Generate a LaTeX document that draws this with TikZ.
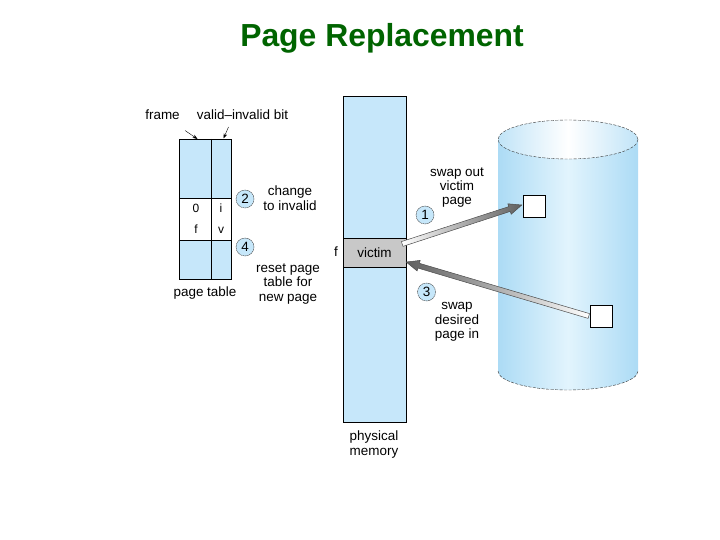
\documentclass[tikz,border=0pt]{standalone}
\usepackage{fontspec}
\setmainfont{Liberation Sans}
\usetikzlibrary{calc,arrows.meta}
\definecolor{titlegreen}{RGB}{0,100,0}
\definecolor{memblue}{RGB}{198,231,250}
\definecolor{diskblue}{RGB}{172,219,245}
\definecolor{disklight}{RGB}{226,244,253}
\definecolor{victimgray}{RGB}{200,200,200}
\definecolor{arrowgray}{RGB}{95,95,95}
\begin{document}
\begin{tikzpicture}[x=1bp, y=-1bp, font=\fontsize{13.5}{14.5}\selectfont]
    % Node style
    \tikzstyle{step circle}=[circle,draw=black!75,dash pattern=on 1.6pt off 0.6pt,fill=memblue,inner sep=0pt,minimum size=18bp]
    \tikzstyle{note}=[align=center,inner sep=0pt]
    \tikzstyle{cell text}=[anchor=base,inner sep=0pt,font=\fontsize{12}{13}\selectfont]
    \tikzstyle{small arrow}=[-{Stealth[length=5pt,width=3.5pt]},thin]
    \tikzstyle{page box}=[draw,thin,fill=white,minimum size=22bp,inner sep=0pt]
    \tikzstyle{disk dash}=[draw=black!80,thin,dash pattern=on 3pt off 1.5pt]

    \useasboundingbox (0,0) rectangle (720,540);

    % --- Title ---
    \node[anchor=base, text=titlegreen, font=\fontsize{32}{36}\selectfont\bfseries] (title) at (382,47) {Page Replacement};

    % --- Page table ---
    \filldraw[fill=memblue, thin] (179,139) rectangle (231,279);
    \filldraw[fill=white, thin] (179,198.5) rectangle (231,240);
    \draw[thin] (211.5,139) -- (211.5,279);
    \node[cell text] (pt_0) at (196,212.5) {0};
    \node[cell text] (pt_i) at (221,212.5) {i};
    \node[cell text] (pt_f) at (196,233.5) {f};
    \node[cell text] (pt_v) at (221,233.5) {v};

    % Column labels and their pointers
    \node[anchor=base] (frame_lbl) at (162.5,120) {frame};
    \node[anchor=base] (vi_lbl) at (242.5,120) {valid--invalid bit};
    \coordinate (frame_tail) at (185,130.5);
    \coordinate (frame_tip) at (197.5,139);
    \coordinate (vi_tail) at (228.5,127);
    \coordinate (vi_tip) at (223.5,138.5);
    \draw[small arrow] (frame_tail) -- (frame_tip);
    \draw[small arrow] (vi_tail) -- (vi_tip);

    \node[note] (pt_lbl) at (205,293) {page table};

    % Steps 2 and 4
    \node[step circle] (step2) at (245,199) {2};
    \node[note] (change_note) at (290,198) {change\\to invalid};
    \node[step circle] (step4) at (245,247) {4};
    \node[note] (reset_note) at (288,284) {reset page\\table for\\new page};

    % --- Physical memory ---
    \filldraw[fill=memblue, thin] (343,96) rectangle (406,422);
    \node[draw, thin, fill=victimgray, minimum width=63bp, minimum height=29bp, inner sep=0pt] (victim) at (374.5,252.5) {victim};
    \node (f_lbl) at (336,252) {f};
    \node[note] (mem_lbl) at (374,444.5) {physical\\memory};

    % --- Backing store (disk) ---
    \shade[left color=diskblue, right color=diskblue, middle color=disklight]
        (498,139.5) -- (498,371) arc[start angle=180, end angle=0, x radius=70, y radius=19] -- (638,139.5) -- cycle;
    \shade[left color=diskblue!75!white, right color=diskblue!75!white, middle color=white]
        (568,139.5) ellipse[x radius=70, y radius=19.5];
    \draw[disk dash] (568,139.5) ellipse[x radius=70, y radius=19.5];
    \draw[disk dash] (498,371) arc[start angle=180, end angle=0, x radius=70, y radius=19];

    \node[page box] (disk_out) at (534,206) {};
    \node[page box] (disk_in) at (601,316) {};

    % Steps 1 and 3
    \node[step circle] (step1) at (425,215) {1};
    \node[note] (out_note) at (457,187.5) {swap out\\victim\\page};
    \node[step circle] (step3) at (426.5,292) {3};
    \node[note] (in_note) at (457,322) {swap\\desired\\page in};

    % --- Swap arrows ---
    \coordinate (out_a) at ($(victim.east)+(-4,-8.5)$);
    \coordinate (out_b) at ($(disk_out.west)+(-1,-1)$);
    \coordinate (out_m) at ($(out_b)!13pt!(out_a)$);
    \shadedraw[left color=white, right color=arrowgray, draw=arrowgray!80!black, line width=0.5pt]
        ($(out_a)!2.5pt!90:(out_b)$) -- ($(out_m)!2.5pt!-90:(out_a)$) -- ($(out_m)!5.5pt!-90:(out_a)$)
        -- (out_b) -- ($(out_m)!5.5pt!90:(out_a)$) -- ($(out_m)!2.5pt!90:(out_a)$) -- ($(out_a)!2.5pt!-90:(out_b)$) -- cycle;

    \coordinate (in_a) at ($(disk_in.west)+(-1,0)$);
    \coordinate (in_b) at ($(victim.east)+(0,9.5)$);
    \coordinate (in_m) at ($(in_b)!13pt!(in_a)$);
    \shadedraw[left color=arrowgray, right color=white, draw=arrowgray!80!black, line width=0.5pt]
        ($(in_a)!2.5pt!90:(in_b)$) -- ($(in_m)!2.5pt!-90:(in_a)$) -- ($(in_m)!5.5pt!-90:(in_a)$)
        -- (in_b) -- ($(in_m)!5.5pt!90:(in_a)$) -- ($(in_m)!2.5pt!90:(in_a)$) -- ($(in_a)!2.5pt!-90:(in_b)$) -- cycle;

\end{tikzpicture}
\end{document}
